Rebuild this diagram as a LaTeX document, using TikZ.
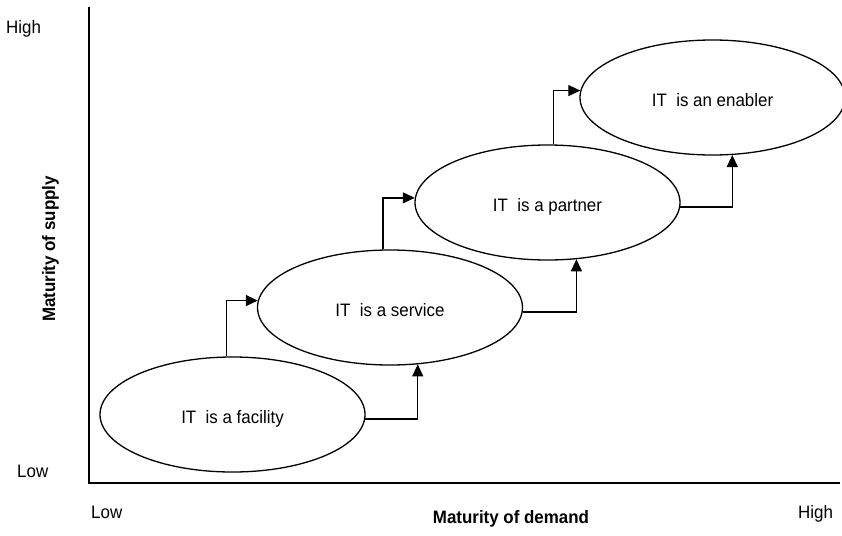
\documentclass[tikz,border=0pt]{standalone}
\usepackage{fontspec}
\setmainfont[FakeStretch=0.94]{Liberation Sans}
\usetikzlibrary{arrows.meta,shapes.geometric}
\begin{document}
\begin{tikzpicture}[x=1pt,y=-1pt,
  stage/.style={ellipse, draw, line width=1.3pt, minimum width=265pt,
    minimum height=115pt, inner sep=0pt, text height=18pt, text depth=0pt,
    font=\fontsize{18pt}{21pt}\selectfont},
  flow/.style={line width=1.3pt, -{Triangle[length=12pt,width=11pt]}},
  axis/.style={line width=1.9pt},
  tick/.style={font=\fontsize{18pt}{21pt}\selectfont, inner sep=0pt},
  axistitle/.style={font=\fontsize{18pt}{21pt}\selectfont\bfseries, inner sep=0pt}]
\useasboundingbox (0,0) rectangle (842,535);
\fill[white] (0,0) rectangle (842,535);

% axes
\coordinate (ytop) at (89,7);
\coordinate (origin) at (89,483);
\coordinate (xend) at (840,483);
\draw[axis] (ytop) -- (origin) -- (xend);

% axis end labels
\node[tick, anchor=base west] (yhigh) at (6,34) {High};
\node[tick, anchor=base west] (ylow) at (17,477) {Low};
\node[tick, anchor=base west] (xlow) at (91,518) {Low};
\node[tick, anchor=base west] (xhigh) at (798,518) {High};

% axis titles
\node[axistitle, anchor=base] (xtitle) at (511,523) {Maturity of demand};
\node[axistitle, anchor=base, rotate=90] (ytitle) at (55,249) {Maturity of supply};

% stages
\node[stage] (fac) at (232.5,414.5) {IT\ \ is a facility};
\node[stage] (svc) at (390,307.5) {IT\ \ is a service};
\node[stage] (ptn) at (547.5,202.5) {IT\ \ is a partner};
\node[stage] (enb) at (712.5,97.5) {IT\ \ is an enabler};

% transitions: supply step (up, then right) and demand step (right, then up)
\draw[flow] (fac.96.5) |- (svc.177.6);
\draw[flow] (fac.-2) -| (svc.-64.4);
\draw[flow] (svc.97) |- (ptn.178);
\draw[flow] (svc.-2.4) -| (ptn.-63.1);
\draw[flow] (ptn.84.5) |- (enb.177.6);
\draw[flow] (ptn.-2.8) -| (enb.-71.1);
\end{tikzpicture}
\end{document}
